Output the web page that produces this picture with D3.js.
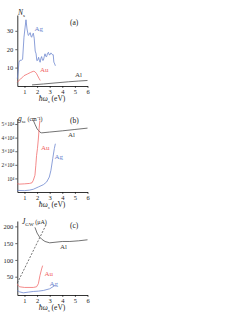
<!DOCTYPE html>
<html>
<head>
<meta charset="utf-8">
<script src="https://cdn.jsdelivr.net/npm/d3@7"></script>
<style>
  body { margin: 0; background: #fff; }
  svg { display: block; font-family: "Liberation Serif", serif; }
</style>
</head>
<body>
<div id="chart"></div>
<script>
// values: [photon energy (eV), value]
var xTicks = [1, 2, 3, 4, 5, 6];

// (a) N_s
var agA = [[0.43,4],[0.5,8],[0.56,13],[0.65,14],[0.75,14],[0.85,14.5],[0.96,26.5],[1.05,32],[1.12,36],[1.2,31],
  [1.3,27.5],[1.38,28],[1.45,29],[1.52,27],[1.57,26.5],[1.64,28],[1.7,28.7],[1.77,26],[1.85,19],[1.92,17.5],
  [1.98,13.8],[2.05,14],[2.12,15.6],[2.18,14],[2.24,12.9],[2.3,15],[2.36,16],[2.43,14],[2.5,14],[2.57,16],
  [2.63,17.5],[2.7,16],[2.76,16],[2.83,17.8],[2.9,18.3],[2.96,17],[3.03,17],[3.1,18],[3.16,17.5],[3.22,17],
  [3.28,17],[3.33,13],[3.4,12],[3.45,11]];
var auA = [[0.43,2],[0.55,3],[0.7,3.8],[0.96,5.6],[1.23,6.5],[1.49,7.4],[1.7,8],[1.82,7.8],[1.95,6.8],[2.05,5.5],
  [2.15,4.2],[2.25,3]];
var alA = [[1.6,0.6],[2.5,1.1],[3.5,1.7],[4.5,2.3],[5.3,2.7],[6,3]];
var yTicksA = [10, 20, 30];

// (b) g_se (cm^-1)
var auB = [[0.43,6100],[0.6,5800],[1.0,6000],[1.4,6300],[1.6,6800],[1.7,8600],[1.83,12300],[1.9,19600],
  [1.96,27000],[2.03,32000],[2.1,39000],[2.16,46500],[2.22,52700]];
var agB = [[0.43,1200],[1.0,1000],[1.4,1400],[1.7,2000],[2.1,3700],[2.5,5400],[2.76,7400],[2.97,11000],
  [3.1,16000],[3.24,24500],[3.37,32000],[3.45,35500]];
var alB = [[1.7,52700],[1.85,49500],[2.0,46500],[2.1,45400],[2.23,44000],[2.36,43500],[3,44100],[4,45000],
  [5,46000],[6,47000]];
var yTicksB = [10000, 20000, 30000, 40000, 50000];
var yLabelsB = ["10\u2074", "2\u00d710\u2074", "3\u00d710\u2074", "4\u00d710\u2074", "5\u00d710\u2074"];

// (c) J_GW (uA)
var alC = [[1.83,197],[2.0,180],[2.2,168],[2.36,162],[2.63,155],[3.0,151],[3.5,153],[4.0,155],[4.6,155],[5.3,157],[6,160]];
var dashC = [[0.43,31],[2.77,209]];
var auC = [[0.43,28],[0.5,24],[0.6,20],[1.0,18],[1.7,18],[1.96,20],[2.1,29],[2.23,54],[2.36,73],[2.44,83]];
var agC = [[0.43,9],[0.6,5],[0.9,2],[1.3,4],[1.7,6],[2.1,7],[2.5,9],[3.0,14],[3.42,24]];
var yTicksC = [50, 100, 150, 200];

var width = 241, height = 312;
var blue = "#6680cc", red = "#f06464", grey = "#444";

var svg = d3.select("#chart").append("svg")
  .attr("width", width)
  .attr("height", height);

var x = d3.scaleLinear().domain([0.43, 6]).range([17.3, 87.5]);

function panel(opt) {
  var y = d3.scaleLinear().domain(opt.yDomain).range([opt.bottom, opt.top]);
  var g = svg.append("g");

  g.append("g")
    .attr("transform", "translate(0," + opt.bottom + ")")
    .call(d3.axisBottom(x).tickValues(xTicks).tickSize(2).tickSizeOuter(0).tickPadding(1.5).tickFormat(d3.format("d")));

  var ya = g.append("g")
    .attr("transform", "translate(" + x(0.43) + ",0)")
    .call(d3.axisLeft(y).tickValues(opt.yTicks).tickSize(2).tickSizeOuter(0).tickPadding(opt.pad || 2)
      .tickFormat(function (d, i) { return opt.yLabels ? opt.yLabels[i] : d; }));

  g.selectAll(".domain").attr("stroke", "#000").attr("stroke-width", 0.8);
  g.selectAll(".tick line").attr("stroke", "#000").attr("stroke-width", 0.6);
  g.selectAll(".tick text").style("font-family", "Liberation Serif").style("font-size", "6.5px").attr("fill", "#222");
  if (opt.yFont) ya.selectAll(".tick text").style("font-size", opt.yFont);

  var line = d3.line().x(function (d) { return x(d[0]); }).y(function (d) { return y(d[1]); });
  opt.series.forEach(function (s) {
    g.append("path").datum(s.data)
      .attr("d", line)
      .attr("fill", "none")
      .attr("stroke", s.color)
      .attr("stroke-width", 0.75)
      .attr("stroke-dasharray", s.dash || null);
    if (s.label) {
      g.append("text").attr("x", s.label[0]).attr("y", s.label[1])
        .attr("fill", s.color).style("font-size", "7px").text(s.name);
    }
  });

  g.append("text").attr("x", opt.tag[0]).attr("y", opt.tag[1])
    .style("font-size", "7.5px").attr("fill", "#222").text(opt.tagText);

  // x label: hbar omega_s (eV)
  var xl = g.append("text").attr("x", 52).attr("y", opt.bottom + 15)
    .attr("text-anchor", "middle").style("font-size", "7.5px").attr("fill", "#222");
  xl.append("tspan").style("font-style", "italic").text("\u0127\u03c9");
  xl.append("tspan").attr("dy", 1.5).style("font-size", "5px").style("font-style", "italic").text("s");
  xl.append("tspan").attr("dy", -1.5).text(" (eV)");

  // y label
  var yl = g.append("text").attr("x", opt.yLab[0]).attr("y", opt.yLab[1])
    .style("font-size", "7.5px").attr("fill", "#222");
  yl.append("tspan").style("font-style", "italic").text(opt.yName);
  yl.append("tspan").attr("dy", 1.5).style("font-size", "5px").text(opt.ySub);
  yl.append("tspan").attr("dy", -1.5).style("font-size", "6px").text(opt.yUnit);
}

panel({
  yDomain: [0, 38.6], bottom: 86, top: 15, yTicks: yTicksA,
  series: [
    { data: alA, color: grey, name: "Al", label: [75, 77] },
    { data: auA, color: red, name: "Au", label: [40, 72] },
    { data: agA, color: blue, name: "Ag", label: [34.5, 31] }
  ],
  tag: [70, 25], tagText: "(a)",
  yLab: [18, 15], yName: "N", ySub: "s", yUnit: ""
});

panel({
  yDomain: [0, 54000], bottom: 192, top: 118.6, yTicks: yTicksB, yLabels: yLabelsB,
  pad: 1, yFont: "5.3px",
  series: [
    { data: alB, color: grey, name: "Al", label: [68, 137] },
    { data: auB, color: red, name: "Au", label: [41, 150] },
    { data: agB, color: blue, name: "Ag", label: [54.5, 159] }
  ],
  tag: [70, 123], tagText: "(b)",
  yLab: [18, 121], yName: "g", ySub: "se", yUnit: " (cm\u207b\u00b9)"
});

panel({
  yDomain: [-4.5, 216], bottom: 295, top: 221, yTicks: yTicksC,
  series: [
    { data: dashC, color: grey, dash: "2,1.5" },
    { data: alC, color: grey, name: "Al", label: [60, 249] },
    { data: auC, color: red, name: "Au", label: [44.5, 276] },
    { data: agC, color: blue, name: "Ag", label: [49.5, 286] }
  ],
  tag: [70, 228], tagText: "(c)",
  yLab: [22, 224], yName: "J", ySub: "GW", yUnit: " (\u03bcA)"
});
</script>
</body>
</html>
